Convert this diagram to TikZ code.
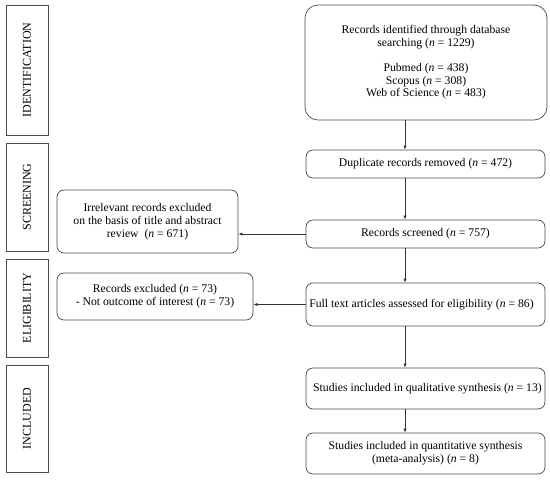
\documentclass[tikz,border=0pt]{standalone}
\usepackage{fontspec}
\setmainfont{Liberation Serif}
\usetikzlibrary{arrows.meta,shadows}
\begin{document}
\begin{tikzpicture}[x=1pt,y=-1pt,
  every node/.style={font=\fontsize{11.7}{12.8}\selectfont, inner sep=1pt},
  sidebox/.style={draw=black!70, line width=0.7pt, rectangle, minimum width=42pt,
    drop shadow={shadow xshift=1pt, shadow yshift=-1pt, fill=black!15, opacity=0.6}, fill=white},
  sidelabel/.style={rotate=90, font=\fontsize{12}{13}\selectfont},
  flowbox/.style={draw=black!70, line width=0.7pt, rounded corners=7pt, align=center, fill=white},
  conn/.style={draw=black!80, line width=0.6pt, -{Latex[length=4pt,width=3.2pt]}}
]
\useasboundingbox (0,0) rectangle (550,482);
% side phase boxes
\node[sidebox, minimum height=130pt] (s1) at (27,70) {};
\node[sidelabel] (t1) at (s1.center) {IDENTIFICATION};
\node[sidebox, minimum height=108pt] (s2) at (27,197) {};
\node[sidelabel] (t2) at (s2.center) {SCREENING};
\node[sidebox, minimum height=98pt] (s3) at (27,308) {};
\node[sidelabel] (t3) at (s3.center) {ELIGIBILITY};
\node[sidebox, minimum height=107pt] (s4) at (27,418.5) {};
\node[sidelabel] (t4) at (s4.center) {INCLUDED};
% main column
\node[flowbox, rounded corners=13pt, minimum width=242pt, minimum height=115pt] (id) at (426,62.5)
  {Records identified through database\\searching (\textit{n} = 1229)\\[12pt]Pubmed (\textit{n} = 438)\\Scopus (\textit{n} = 308)\\Web of Science (\textit{n} = 483)};
\node[flowbox, minimum width=239pt, minimum height=28pt] (dup) at (425.5,164) {Duplicate records removed (\textit{n} = 472)};
\node[flowbox, minimum width=239pt, minimum height=28pt] (scr) at (425.5,234) {Records screened (\textit{n} = 757)};
\node[flowbox, minimum width=239pt, minimum height=43pt] (full) at (425.5,304.5) {Full text articles assessed for eligibility (\textit{n} = 86)\hspace*{8pt}};
\node[flowbox, minimum width=239pt, minimum height=41pt] (qual) at (425.5,388.5) {\hspace*{4pt}Studies included in qualitative synthesis (\textit{n} = 13)};
\node[flowbox, minimum width=239pt, minimum height=41pt] (quant) at (425.5,453.5) {Studies included in quantitative synthesis\\(meta-analysis) (\textit{n} = 8)};
% exclusion boxes
\node[flowbox, minimum width=181pt, minimum height=63pt] (irr) at (147.5,221.5) {Irrelevant records excluded\\on the basis of title and abstract\\review\ \ (\textit{n} = 671)};
\node[flowbox, minimum width=196pt, minimum height=47pt] (exc) at (155,296.5) {Records excluded (\textit{n} = 73)\\- Not outcome of interest (\textit{n} = 73)};
% connectors
\coordinate (ax) at (405,0);
\draw[conn] (id.south -| ax) -- (dup.north -| ax);
\draw[conn] (dup.south -| ax) -- (scr.north -| ax);
\draw[conn] (scr.south -| ax) -- (full.north -| ax);
\draw[conn] (full.south -| ax) -- (qual.north -| ax);
\draw[conn] (qual.south -| ax) -- (quant.north -| ax);
\draw[conn] (scr.west) -- (scr.west -| irr.east);
\draw[conn] (full.west) -- (full.west -| exc.east);
\end{tikzpicture}
\end{document}
